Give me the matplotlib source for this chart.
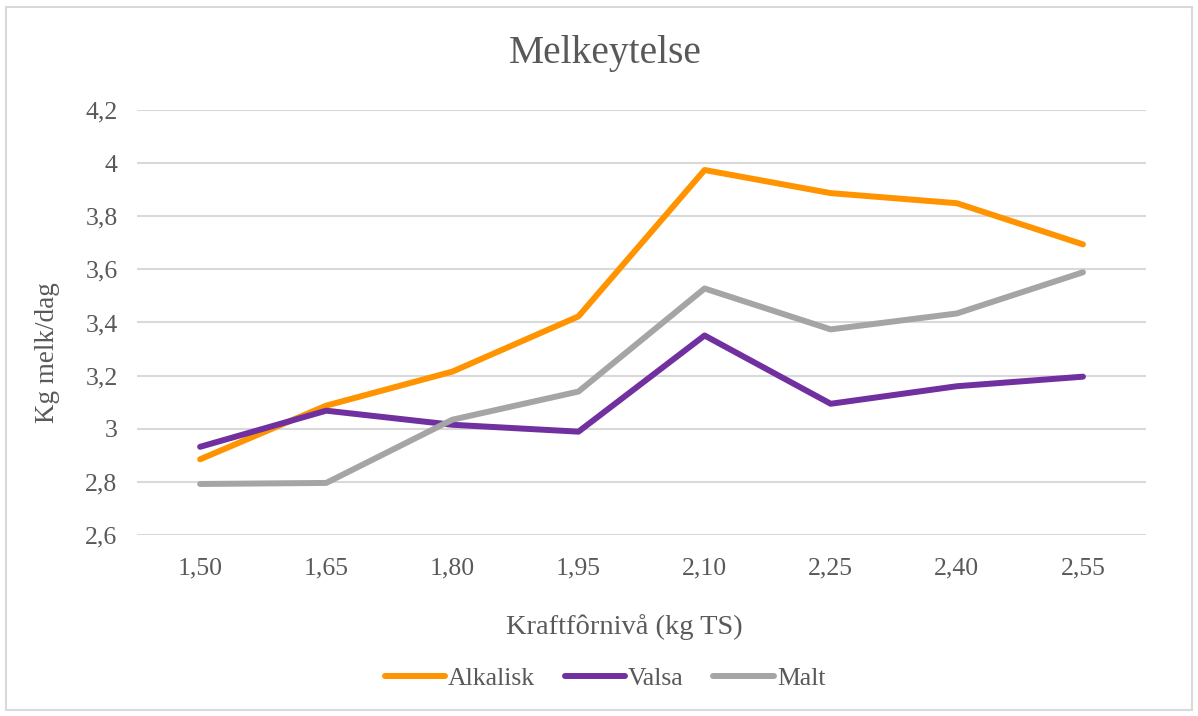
import matplotlib.pyplot as plt
from matplotlib.patches import Rectangle

plt.rcParams['font.family'] = ['Liberation Serif', 'DejaVu Serif']

levels = ["1,50", "1,65", "1,80", "1,95", "2,10", "2,25", "2,40", "2,55"]
alkalisk = [2.885, 3.087, 3.215, 3.423, 3.974, 3.887, 3.849, 3.694]
valsa = [2.932, 3.068, 3.015, 2.989, 3.351, 3.094, 3.160, 3.196]
malt = [2.792, 2.796, 3.034, 3.140, 3.528, 3.374, 3.434, 3.589]
yticks = [2.6, 2.8, 3.0, 3.2, 3.4, 3.6, 3.8, 4.0, 4.2]
ylabels = ["2,6", "2,8", "3", "3,2", "3,4", "3,6", "3,8", "4", "4,2"]

txt = "#595959"

fig = plt.figure(figsize=(11.98, 7.16), dpi=100)
ax = fig.add_axes([0.1144, 0.2528, 0.8422, 0.5936])

xs = range(len(levels))
ax.plot(xs, alkalisk, color="#FF9300", lw=4.3, label="Alkalisk", solid_capstyle="round", solid_joinstyle="round")
ax.plot(xs, valsa, color="#7030A0", lw=4.3, label="Valsa", solid_capstyle="round", solid_joinstyle="round")
ax.plot(xs, malt, color="#A5A5A5", lw=4.3, label="Malt", solid_capstyle="round", solid_joinstyle="round")

ax.set_xlim(-0.5, len(levels) - 0.5)
ax.set_ylim(2.6, 4.2)
ax.set_xticks(list(xs))
ax.set_xticklabels(levels)
ax.set_yticks(yticks)
ax.set_yticklabels(ylabels)
ax.tick_params(length=0, labelsize=18.5, colors=txt, pad=14)
ax.tick_params(axis="x", pad=16)
ax.grid(axis="y", color="#D9D9D9", lw=1.5)
ax.set_axisbelow(True)
for s in ax.spines.values():
    s.set_visible(False)

fig.text(0.505, 0.925, "Melkeytelse", ha="center", va="center", fontsize=28.5, color=txt)
fig.text(0.040, 0.507, "Kg melk/dag", ha="center", va="center", rotation=90, fontsize=19.5, color=txt)
fig.text(0.521, 0.124, "Kraftfôrnivå (kg TS)", ha="center", va="center", fontsize=20.5, color=txt)

fig.legend(loc="center", bbox_to_anchor=(0.505, 0.053), ncol=3, frameon=False,
           fontsize=18.5, labelcolor=txt, handlelength=2.35, handletextpad=0.12, columnspacing=1.15)

# outer chart border
fig.add_artist(Rectangle((0.005, 0.008), 0.99, 0.982, transform=fig.transFigure,
                         fill=False, edgecolor="#D9D9D9", lw=1.5))

fig.savefig("out.png", dpi=100)
